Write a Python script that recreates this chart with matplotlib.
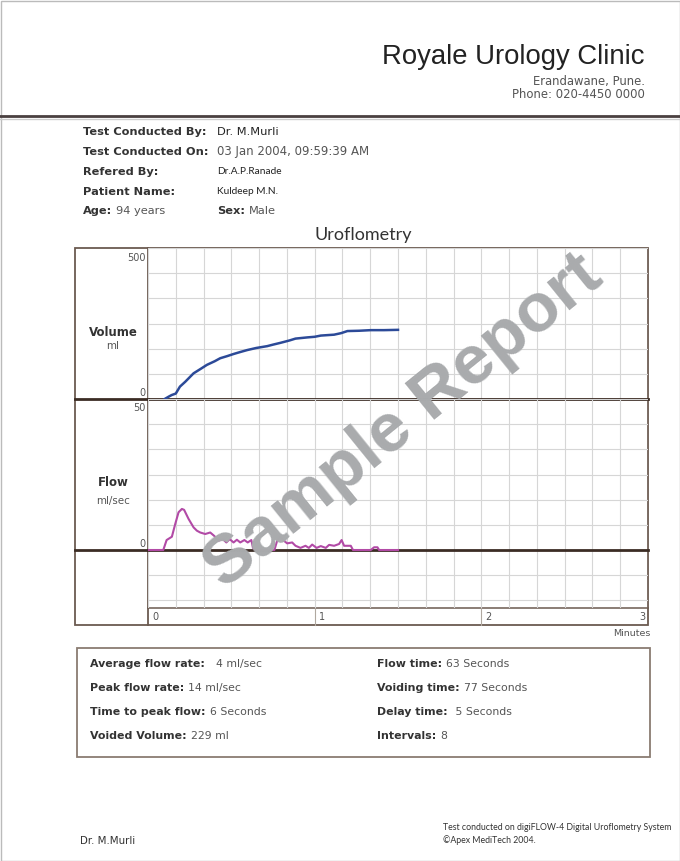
import matplotlib
matplotlib.use('Agg')
import matplotlib.pyplot as plt
import numpy as np

# Volume curve (seconds, ml)
vol_time = [6, 7.5, 8.5, 10, 11.5, 13.4, 16.4, 19, 21.2, 24, 26, 28.5, 30.8, 33, 35.7, 39, 42.9,
            45, 47.7, 51, 53.1, 57.4, 60, 62.2, 67, 69.5, 71.8, 76, 80.2, 85, 90]
vol_ml = [0, 8, 13, 18, 41, 57, 85, 100, 113, 125, 135, 142, 149, 155, 162, 169, 175,
          180, 186, 194, 200, 204, 206, 210, 213, 218, 225, 226, 228, 228, 229]

# Flow curve (seconds, ml/sec)
flow_time = [0, 5.5, 6.7, 8.6, 9.8, 11, 12.2, 13, 14.6, 16.4, 17.6, 18.8, 20.6, 22.4, 23.8, 25.4,
             27, 28.2, 29.4, 30.8, 32, 33.2, 34.7, 35.9, 37.2, 37.8, 38.7, 45.5, 46.5, 47.5, 48.9,
             50.1, 51.9, 53.1, 54.9, 56.7, 57.9, 59.1, 60.7, 62.2, 64, 65.2, 67, 68.8, 69.7, 70.6,
             73, 73.8, 80.2, 81.4, 82.6, 83.2, 90]
flow_rate = [0, 0, 3.3, 4.4, 8.6, 12.5, 13.6, 13.3, 10.3, 7.5, 6.4, 5.8, 5.3, 5.8, 4.7, 3.1,
             3.6, 2.5, 3.6, 2.5, 3.4, 2.5, 3.3, 2.5, 3.3, 0.7, 0, 0, 3.1, 4.4, 3.1,
             2.2, 2.5, 1.4, 0.7, 1.4, 0.7, 1.8, 0.7, 1.3, 0.7, 1.7, 1.4, 2.0, 3.3, 1.4,
             1.4, 0, 0, 0.9, 0.9, 0, 0]

minute_labels = ['0', '1', '2', '3']

info_rows = [('Test Conducted By:', 'Dr. M.Murli'),
             ('Test Conducted On:', '03 Jan 2004, 09:59:39 AM'),
             ('Refered By:', 'Dr.A.P.Ranade'),
             ('Patient Name:', 'Kuldeep M.N.')]

summary_left = [('Average flow rate:', '  4 ml/sec'), ('Peak flow rate:', '14 ml/sec'),
                ('Time to peak flow:', '6 Seconds'), ('Voided Volume:', '229 ml')]
summary_right = [('Flow time:', '63 Seconds'), ('Voiding time:', '77 Seconds'),
                 ('Delay time:', ' 5 Seconds'), ('Intervals:', '8')]

W, H = 680, 861
fig = plt.figure(figsize=(6.8, 8.61), dpi=100)
fig.patch.set_facecolor('white')

# page axes in pixel coordinates
page = fig.add_axes([0, 0, 1, 1])
page.set_xlim(0, W)
page.set_ylim(H, 0)
page.axis('off')


def px_axes(x0, y0, x1, y1):
    return fig.add_axes([x0 / W, 1 - y1 / H, (x1 - x0) / W, (y1 - y0) / H])


dark = '#3b2c24'
frame = '#6b5a50'
label_col = '#333333'
value_col = '#555555'
verdana = 'DejaVu Sans'
gothic = ['Lato', 'DejaVu Sans']

# page border
page.add_patch(plt.Rectangle((0.5, 0.5), W - 1, H - 1, fill=False, ec='#bbbbbb', lw=1))

# header
page.text(644, 57, 'Royale Urology Clinic', ha='right', va='center', fontsize=19.8,
          family='Liberation Sans', color='#222222')
page.text(645, 82, 'Erandawane, Pune.', ha='right', va='center', fontsize=8.4,
          family=verdana, color=value_col)
page.text(645, 94, 'Phone: 020-4450 0000', ha='right', va='center', fontsize=8.4,
          family=verdana, color=value_col)
page.plot([0, W], [116, 116], color='#4a4040', lw=2)
page.plot([0, W], [118.5, 118.5], color='#cccccc', lw=1)

renderer = fig.canvas.get_renderer()


def text_after(t, s, gap=4, **kw):
    bb = t.get_window_extent(renderer)
    x_end = page.transData.inverted().transform((bb.x1, bb.y0))[0]
    x, y = t.get_position()
    return page.text(x_end + gap, y, s, **kw)


# patient info
info_y = [132, 152, 172, 192]
for (lab, val), y in zip(info_rows, info_y):
    page.text(83, y, lab, ha='left', va='center', fontsize=8.2, fontweight='bold',
              family=verdana, color=label_col)
    if lab in ('Refered By:', 'Patient Name:'):
        page.text(217, y, val, ha='left', va='center', fontsize=7.3, family=gothic, color='#222222')
    elif lab == 'Test Conducted By:':
        page.text(217, y, val, ha='left', va='center', fontsize=8.2, family=verdana, color='#222222')
    else:
        page.text(217, y, val, ha='left', va='center', fontsize=8.5, family=verdana, color=value_col)
t = page.text(83, 211, 'Age:', ha='left', va='center', fontsize=8.2, fontweight='bold',
              family=verdana, color=label_col)
text_after(t, '94 years', ha='left', va='center', fontsize=8.2, family=verdana, color=value_col)
t = page.text(217, 211, 'Sex:', ha='left', va='center', fontsize=8.2, fontweight='bold',
              family=verdana, color=label_col)
text_after(t, 'Male', ha='left', va='center', fontsize=8.2, family=verdana, color=value_col)

page.text(363, 235, 'Uroflometry', ha='center', va='center', fontsize=13, family='Lato',
          color='#333333')

# chart frame
x_left, x_right = 148, 648
page.add_patch(plt.Rectangle((75, 248), x_right - 75, 625 - 248, fill=False, ec=frame, lw=1.3))
page.plot([x_left, x_left], [248, 625], color=frame, lw=1.3)
page.plot([x_left, x_right], [608, 608], color=frame, lw=1.1)
page.plot([75, x_left], [399, 399], color=dark, lw=2)
page.plot([75, x_left], [550, 550], color=dark, lw=2)

vol_ax = px_axes(x_left, 248, x_right, 399)
flow_ax = px_axes(x_left, 399, x_right, 608)

for ax in (vol_ax, flow_ax):
    ax.set_facecolor('none')
    ax.set_xlim(0, 180)
    ax.set_xticks(np.arange(0, 181, 10))
    ax.grid(True, color='#d6d6d6', lw=0.8)
    ax.tick_params(length=0, labelbottom=False, labelleft=False)
    for s in ax.spines.values():
        s.set_visible(False)

vol_ax.set_ylim(0, 500)
vol_ax.set_yticks(np.linspace(0, 500, 7))
flow_ax.set_ylim(-19.2, 50)
flow_ax.set_yticks(np.arange(-2, 7) * 50 / 6)

vol_ax.axhline(0, color=dark, lw=2, zorder=1.8, clip_on=False)
flow_ax.axhline(0, color=dark, lw=2, zorder=1.8, clip_on=False)

vol_ax.plot(vol_time, vol_ml, color='#2c4a98', lw=1.8, zorder=3, solid_joinstyle='round')
flow_ax.plot(flow_time, flow_rate, color='#b24aa6', lw=1.5, zorder=3, solid_joinstyle='round')

# axis labels in the left column
page.text(146, 258, '500', ha='right', va='center', fontsize=7, family=verdana, color=value_col)
page.text(146, 393, '0', ha='right', va='center', fontsize=7, family=verdana, color=value_col)
page.text(146, 408, '50', ha='right', va='center', fontsize=7, family=verdana, color=value_col)
page.text(146, 544, '0', ha='right', va='center', fontsize=7, family=verdana, color=value_col)
page.text(113, 332, 'Volume', ha='center', va='center', fontsize=8.5, fontweight='bold',
          family=verdana, color=label_col)
page.text(113, 346, 'ml', ha='center', va='center', fontsize=7.4, family=verdana, color=value_col)
page.text(113, 482, 'Flow', ha='center', va='center', fontsize=8.5, fontweight='bold',
          family=verdana, color=label_col)
page.text(113, 501, 'ml/sec', ha='center', va='center', fontsize=7.4, family=verdana, color=value_col)

# minute labels under the grid
for i, lab in enumerate(minute_labels):
    xp = x_left + (x_right - x_left) * i / 3
    if 0 < i < 3:
        page.plot([xp, xp], [608, 625], color='#b0a8a0', lw=0.8)
    if i < 3:
        page.text(xp + 4, 617, lab, ha='left', va='center', fontsize=7, family=verdana,
                  color=value_col)
    else:
        page.text(xp - 3, 617, lab, ha='right', va='center', fontsize=7, family=verdana,
                  color=value_col)
page.text(650, 634, 'Minutes', ha='right', va='center', fontsize=6.8, family=verdana, color=value_col)

# summary box
page.add_patch(plt.Rectangle((77, 648), 650 - 77, 757 - 648, fill=False, ec='#8a7c72', lw=1.3))
row_y = [664, 688, 712, 736]
for (lab, val), y in zip(summary_left, row_y):
    t = page.text(90, y, lab, ha='left', va='center', fontsize=7.9, fontweight='bold',
                  family=verdana, color=label_col)
    text_after(t, val, ha='left', va='center', fontsize=7.8, family=verdana, color=value_col)
for (lab, val), y in zip(summary_right, row_y):
    t = page.text(377, y, lab, ha='left', va='center', fontsize=7.9, fontweight='bold',
                  family=verdana, color=label_col)
    text_after(t, val, ha='left', va='center', fontsize=7.8, family=verdana, color=value_col)

# footer
page.text(80, 841, 'Dr. M.Murli', ha='left', va='center', fontsize=7.4, family=verdana, color='#333333')
page.text(443, 828, 'Test conducted on digiFLOW-4 Digital Uroflometry System', ha='left',
          va='center', fontsize=6.3, family=gothic, color='#333333')
page.text(443, 840, '\u00a9Apex MediTech 2004.', ha='left', va='center', fontsize=6.3,
          family=gothic, color='#333333')

# watermark
fig.text(403 / W, 1 - 422 / H, 'Sample Report', rotation=39, rotation_mode='anchor',
         ha='center', va='center', fontsize=50, fontweight='bold', family='Liberation Sans',
         color='#a9abad', zorder=10)

fig.savefig('out.png', dpi=100)
